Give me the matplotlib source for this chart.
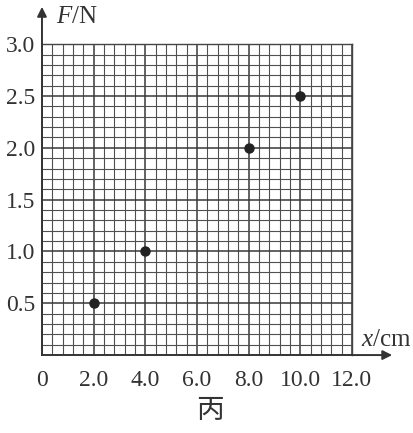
import numpy as np
import matplotlib.pyplot as plt
from matplotlib.ticker import MultipleLocator

# data
x_cm = [2.0, 4.0, 8.0, 10.0]
f_n = [0.5, 1.0, 2.0, 2.5]
x_ticks = [0, 2.0, 4.0, 6.0, 8.0, 10.0, 12.0]
x_labels = ["0", "2.0", "4.0", "6.0", "8.0", "10.0", "12.0"]
y_ticks = [0.5, 1.0, 1.5, 2.0, 2.5, 3.0]
y_labels = ["0.5", "1.0", "1.5", "2.0", "2.5", "3.0"]


def main():
    plt.rcParams['font.family'] = ['Liberation Serif', 'DejaVu Serif']
    plt.rcParams['mathtext.fontset'] = 'custom'
    plt.rcParams['mathtext.rm'] = 'Liberation Serif'
    plt.rcParams['mathtext.it'] = 'Liberation Serif:italic'
    fig = plt.figure(figsize=(4.14, 4.33), dpi=100)
    ax = fig.add_axes([0.1014, 0.180, 0.7486, 0.718])
    ax.set_xlim(0, 12)
    ax.set_ylim(0, 3)

    ink = '#333333'
    # grid paper
    ax.xaxis.set_minor_locator(MultipleLocator(0.4))
    ax.yaxis.set_minor_locator(MultipleLocator(0.1))
    ax.xaxis.set_major_locator(MultipleLocator(2.0))
    ax.yaxis.set_major_locator(MultipleLocator(0.5))
    ax.grid(which='minor', color='#505050', linewidth=0.8)
    ax.grid(which='major', color='#383838', linewidth=1.1)
    ax.set_axisbelow(True)

    ax.set_xticks(x_ticks)
    ax.set_xticklabels(x_labels, fontsize=17, color=ink)
    ax.set_yticks(y_ticks)
    ax.set_yticklabels(y_labels, fontsize=17, color=ink)
    ax.tick_params(which='both', length=0)
    ax.tick_params(axis='x', pad=11)
    ax.tick_params(axis='y', pad=5)

    for side in ['top', 'right']:
        ax.spines[side].set_color('#444444')
        ax.spines[side].set_linewidth(1.0)
    for side in ['left', 'bottom']:
        ax.spines[side].set_color(ink)
        ax.spines[side].set_linewidth(1.4)

    # axis arrows
    ax.annotate('', xy=(1.13, 0), xytext=(1.0, 0), xycoords='axes fraction',
                arrowprops=dict(arrowstyle='-|>', color=ink, lw=1.4,
                                mutation_scale=14, shrinkA=0, shrinkB=0))
    ax.annotate('', xy=(0, 1.12), xytext=(0, 1.0), xycoords='axes fraction',
                arrowprops=dict(arrowstyle='-|>', color=ink, lw=1.4,
                                mutation_scale=14, shrinkA=0, shrinkB=0))

    ax.text(0.045, 1.088, r'$\mathit{F}$/N', transform=ax.transAxes,
            fontsize=18, color=ink, va='center', ha='left')
    ax.text(1.03, 0.05, r'$\mathit{x}$/cm', transform=ax.transAxes,
            fontsize=18, color=ink, va='center', ha='left')

    ax.plot(x_cm, f_n, 'o', color='#222222', markersize=6.5, zorder=5,
            clip_on=False)

    fig.text(0.507, 0.053, '丙', fontsize=20, color=ink, ha='center',
             va='center', family=['Noto Sans CJK SC', 'DejaVu Sans'])

    plt.savefig('out.png', dpi=100)


if __name__ == "__main__":
    main()
